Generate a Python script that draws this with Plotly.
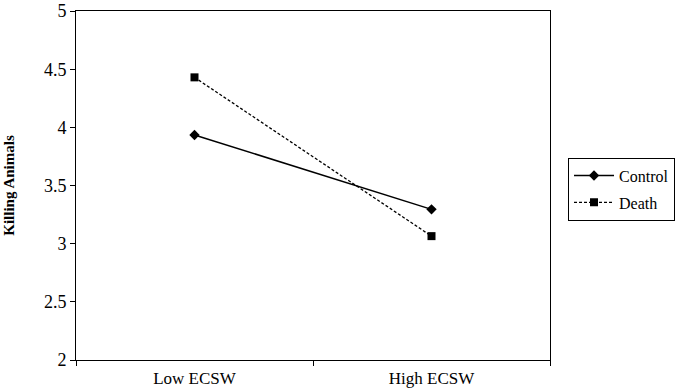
import plotly.graph_objects as go

categories = ["Low ECSW", "High ECSW"]
control = [3.935, 3.295]
death = [4.43, 3.065]
y_ticks = [2, 2.5, 3, 3.5, 4, 4.5, 5]
y_tick_labels = ["2", "2.5", "3", "3.5", "4", "4.5", "5"]

font_family = "Liberation Serif"

fig = go.Figure()
fig.add_trace(go.Scatter(
    x=categories, y=control, name="Control", mode="lines+markers", legendgroup="c",
    line=dict(color="black", width=1.5),
    marker=dict(symbol="diamond", size=8, color="black"),
))
fig.add_trace(go.Scatter(
    x=categories, y=death, name="Death", mode="lines+markers", legendgroup="d",
    line=dict(color="black", width=1.3, dash="3px,2px"),
    marker=dict(symbol="square", size=8, color="black"),
))

fig.update_layout(
    width=697, height=391,
    margin=dict(l=76, r=147, t=11, b=31, autoexpand=False),
    plot_bgcolor="white", paper_bgcolor="white",
    font=dict(family=font_family, size=16, color="black"),
    showlegend=True,
    legend=dict(
        x=1.038, y=0.58, xanchor="left", yanchor="top",
        bordercolor="black", borderwidth=1,
        font=dict(family=font_family, size=16, color="black"),
        itemwidth=40, tracegroupgap=3,
    ),
)
fig.update_xaxes(
    type="category", categoryorder="array", categoryarray=categories,
    range=[-0.5, 1.5], automargin=False,
    showline=True, linecolor="black", linewidth=1, mirror=True,
    showgrid=False, zeroline=False,
    tickson="boundaries", ticks="outside", ticklen=5, tickcolor="black",
    ticklabelstandoff=3,
    tickfont=dict(family=font_family, size=17, color="black"),
)
fig.update_yaxes(
    range=[2, 5.0005], tickvals=y_ticks, ticktext=y_tick_labels, automargin=False,
    showline=True, linecolor="black", linewidth=1, mirror=True,
    showgrid=False, zeroline=False,
    ticks="outside", ticklen=5, tickcolor="black",
    ticklabeloverflow="allow",
    tickfont=dict(family=font_family, size=18, color="black"),
    title=dict(text="<b>Killing Animals</b>", font=dict(family=font_family, size=15, color="black"), standoff=25),
)

fig.write_html("out.html")
